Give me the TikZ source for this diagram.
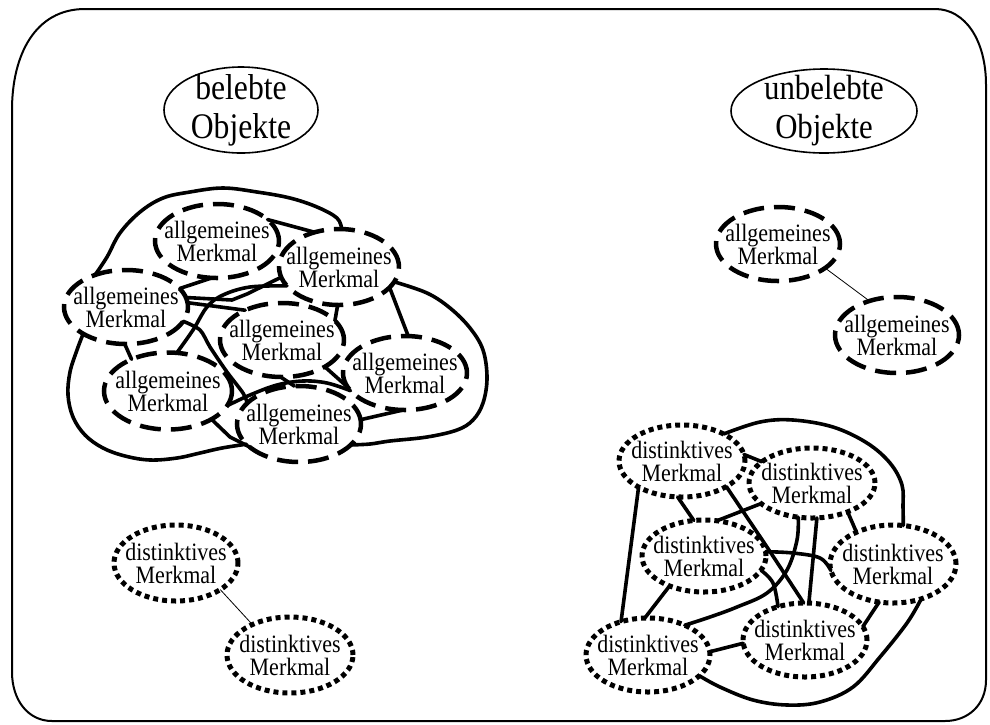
\documentclass[tikz,border=0pt]{standalone}
\usepackage{fontspec}
\setmainfont{Liberation Serif}
\newfontfamily\narrowserif{Liberation Serif}[FakeStretch=0.88]
\usetikzlibrary{shapes.geometric}
\begin{document}
\begin{tikzpicture}[x=1pt,y=-1pt,
  feature/.style={ellipse, inner sep=-40pt, outer sep=0pt, align=center,
    font=\narrowserif\fontsize{25}{23}\selectfont, minimum width=124pt, minimum height=74pt},
  general/.style={feature, draw, line width=4.5pt, dash pattern=on 21pt off 10pt},
  distinct/.style={feature, draw, line width=5pt, dash pattern=on 5pt off 4pt},
  category/.style={ellipse, draw, line width=1.6pt, inner sep=-40pt, outer sep=0pt,
    align=center, font=\narrowserif\fontsize{36}{39}\selectfont},
  link/.style={line width=3.6pt, line cap=round, line join=round},
  thinlink/.style={line width=0.8pt},
  frame/.style={line width=2pt, line join=round}]

\useasboundingbox (0,0) rectangle (990,724);

% outer frame with rounded corners
\draw[frame] (85,9) -- (935,9) .. controls (965,9) and (986,40) .. (986,85)
  -- (986,680) .. controls (986,705) and (968,721) .. (945,721)
  -- (52,721) .. controls (28,721) and (12,700) .. (12,672)
  -- (12,110) .. controls (12,55) and (35,9) .. (85,9) -- cycle;

% category labels
\node[category, minimum width=154pt, minimum height=86pt] (animate) at (241,110) {belebte\\Objekte};
\node[category, minimum width=186pt, minimum height=84pt, font=\narrowserif\fontsize{35}{39}\selectfont] (inanimate) at (824,111) {unbelebte\\Objekte};

% general features of animate objects
\node[general] (g1) at (217,241) {allgemeines\\Merkmal};
\node[general, minimum width=120pt, minimum height=76pt] (g2) at (339,267) {allgemeines\\Merkmal};
\node[general] (g3) at (126,307) {allgemeines\\Merkmal};
\node[general] (g4) at (282,340) {allgemeines\\Merkmal};
\node[general] (g5) at (405,373) {allgemeines\\Merkmal};
\node[general, minimum width=128pt, minimum height=77pt] (g6) at (168,391) {allgemeines\\Merkmal};
\node[general, minimum height=76pt] (g7) at (299,424) {allgemeines\\Merkmal};

% general features of inanimate objects
\node[general] (r1) at (778,244) {allgemeines\\Merkmal};
\node[general, minimum height=76pt] (r2) at (897,335) {allgemeines\\Merkmal};

% distinctive features of animate objects
\node[distinct, minimum height=76pt] (l1) at (176,563) {distinktives\\Merkmal};
\node[distinct, minimum width=126pt, minimum height=76pt] (l2) at (290,655) {distinktives\\Merkmal};

% distinctive features of inanimate objects
\node[distinct, minimum width=126pt, minimum height=72pt] (d1) at (682,461) {distinktives\\Merkmal};
\node[distinct, minimum width=126pt, minimum height=70pt] (d2) at (812,483) {distinktives\\Merkmal};
\node[distinct, minimum height=72pt] (d3) at (704,556) {distinktives\\Merkmal};
\node[distinct, minimum width=126pt, minimum height=78pt] (d4) at (893,564) {distinktives\\Merkmal};
\node[distinct] (d5) at (805,640) {distinktives\\Merkmal};
\node[distinct] (d6) at (648,655) {distinktives\\Merkmal};

% sparse links
\draw[thinlink] (l1.-31) -- (l2.141);
\draw[thinlink] (r1.-27) -- (r2.129);

% dense network of general features
\draw[link] plot[smooth, tension=0.6] coordinates {(g3.134) (107,257) (120,233) (140,212)
  (163,198) (190,192) (223,188) (257,192) (290,198) (317,207) (337,218) (g2.86)};
\draw[link] plot[smooth, tension=0.6] coordinates {(g2.-15) (427,293) (450,308) (470,328)
  (483,350) (487,378) (483,403) (473,420) (457,430) (427,437) (390,441) (370,444) (g7.-22)};
\draw[link] plot[smooth, tension=0.6] coordinates {(g3.212) (77,350) (70,372) (68,395)
  (73,417) (85,435) (103,448) (125,456) (150,460) (177,458) (200,453) (222,448) (g7.201)};
\draw[link] (g1.23) -- (g2.125);
\draw[link] (g3.19) -- (g1.262);
\draw[link] (g3.9) -- (232,300) -- (247,294) -- (g2.190);
\draw[link] (g3.4) -- (g4.141);
\draw[link] plot[smooth, tension=0.6] coordinates {(g6.77) (193,330) (207,307) (223,295)
  (250,287) (g2.200)};
\draw[link] (g3.268) -- (g6.139);
\draw[link] plot[smooth, tension=0.5] coordinates {(g3.-14) (200,330) (210,347) (227,372)
  (243,393) (g7.158)};
\draw[link] (g4.20) -- (g2.268);
\draw[link] (g2.-22) -- (g5.85);
\draw[link] (g4.-32) -- (g5.194);
\draw[link] plot[smooth, tension=0.6] coordinates {(g6.-14) (250,395) (277,385) (303,381)
  (327,383) (g5.198)};
\draw[link] (g4.268) -- (g7.97);
\draw[link] (g7.4) -- (g5.267);
\draw[link] (g6.-33) -- (230,437) -- (g7.205);

% dense network of distinctive features
\draw[link] plot[smooth, tension=0.6] coordinates {(d1.33) (760,422) (793,420) (833,427)
  (867,443) (890,463) (902,485) (903,507) (d4.75)};
\draw[link] (d1.6) -- (d2.157);
\draw[link] (d1.211) -- (d6.129);
\draw[link] (d1.263) -- (d3.106);
\draw[link] (d1.-30) -- (767,547) -- (d5.92);
\draw[link] (d2.202) -- (d3.70);
\draw[link] plot[smooth, tension=0.6] coordinates {(d2.248) (797,540) (787,570) (767,593)
  (737,607) (710,617) (d6.39)};
\draw[link] (d2.278) -- (d5.84);
\draw[link] (d2.-39) -- (d4.139);
\draw[link] plot[smooth, tension=0.6] coordinates {(d3.4) (793,553) (820,558) (d4.186)};
\draw[link] plot[smooth, tension=0.6] coordinates {(d3.-14) (773,583) (d5.129)};
\draw[link] (d3.221) -- (d6.95);
\draw[link] (d6.3) -- (d5.183);
\draw[link] (d4.250) -- (d5.13);
\draw[link] plot[smooth, tension=0.6] coordinates {(d6.-22) (720,687) (753,700) (787,705)
  (820,702) (853,687) (880,657) (907,623) (d4.-51)};

\end{tikzpicture}
\end{document}
